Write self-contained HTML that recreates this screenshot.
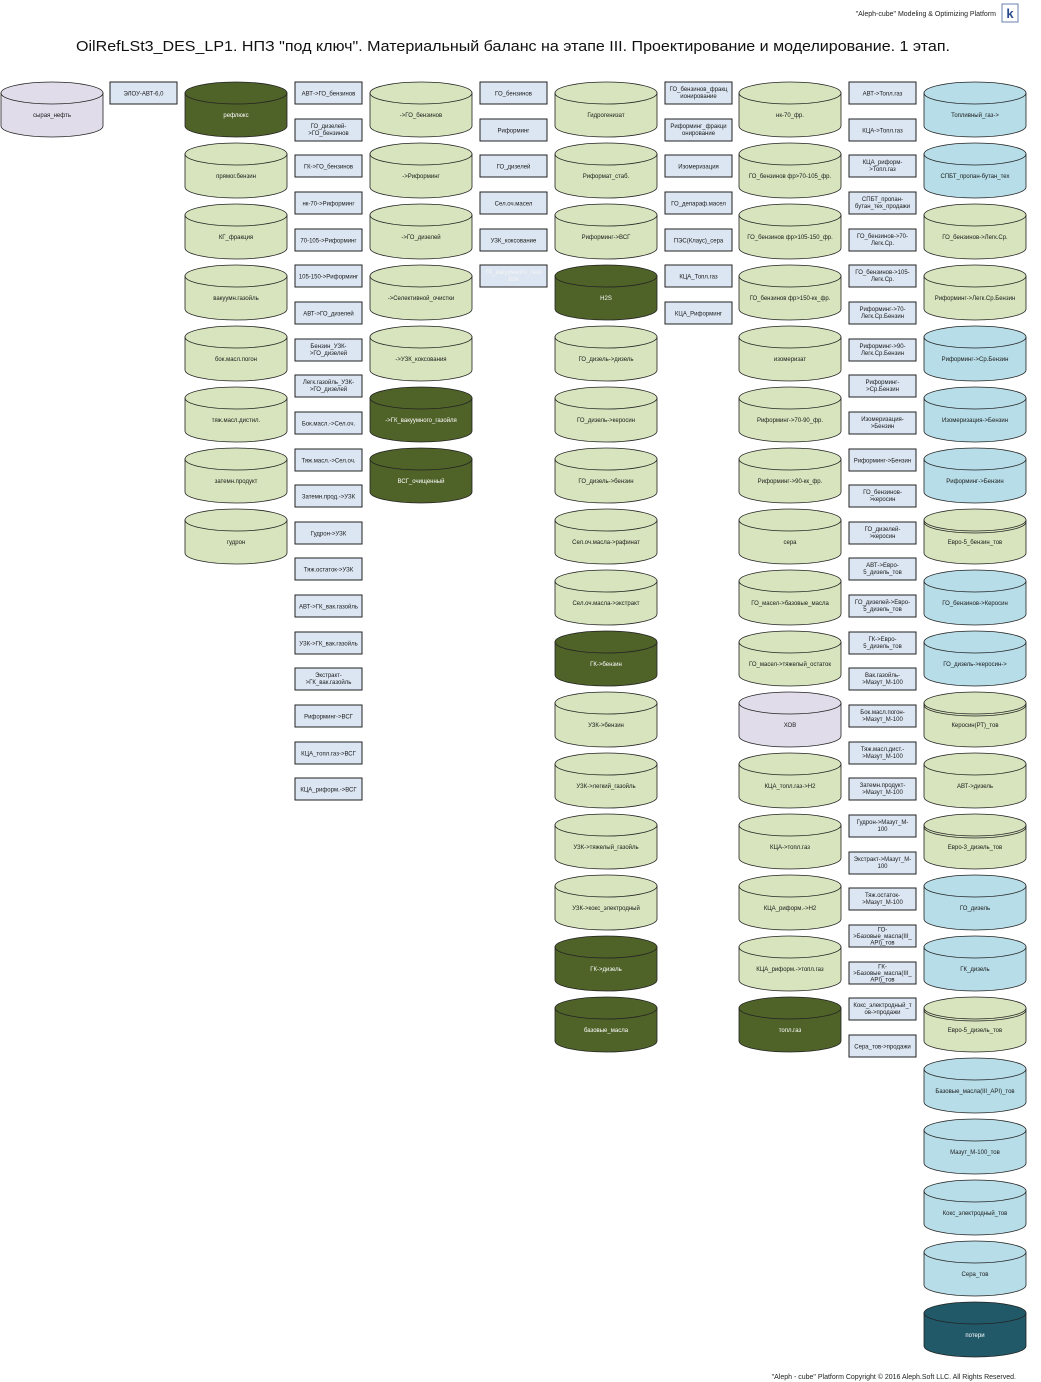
<!DOCTYPE html>
<html><head><meta charset="utf-8">
<style>
html,body{margin:0;padding:0;background:#fff;}
svg{display:block;}
text{font-family:"Liberation Sans","DejaVu Sans",sans-serif;}
.t{font-size:6px;text-anchor:middle;fill:#1a1a1a;}
.w{font-size:6px;text-anchor:middle;fill:#fff;}
.f{font-size:6px;text-anchor:middle;fill:#f4f4f4;}
</style></head><body>
<svg width="1041" height="1382" viewBox="0 0 1041 1382" xmlns="http://www.w3.org/2000/svg">
<defs>
<g id="cy" stroke="#222" stroke-width="0.8">
<path d="M0 11 V44 A51 11 0 0 0 102 44 V11 Z"/>
<ellipse cx="51" cy="11" rx="51" ry="11"/>
</g>
<path id="dbl" d="M0 13 A51 11 0 0 0 102 13" fill="none" stroke="#222" stroke-width="0.8"/>
<rect id="bx" width="67" height="22" fill="#dce6f2" stroke="#222" stroke-width="1"/>
</defs>

<text x="996" y="16" style="font-size:7px;text-anchor:end;fill:#222">"Aleph-cube" Modeling &amp; Optimizing Platform</text>
<rect x="1002" y="4" width="16" height="18" fill="#fff" stroke="#6a7fb0" stroke-width="1"/>
<text x="1010" y="18" style="font-size:13px;text-anchor:middle;fill:#2a4a90;font-weight:bold">k</text>
<text x="513" y="51" textLength="874" lengthAdjust="spacingAndGlyphs" style="font-size:14.5px;text-anchor:middle;fill:#111">OilRefLSt3_DES_LP1. НПЗ "под ключ". Материальный баланс на этапе III. Проектирование и моделирование. 1 этап.</text>
<text x="1016" y="1379" style="font-size:7px;text-anchor:end;fill:#222">"Aleph - cube" Platform Copyright © 2016 Aleph.Soft LLC. All Rights Reserved.</text>

<!-- Col A -->
<g transform="translate(1,82)"><use href="#cy" fill="#e0dcea"/><text class="t" x="51" y="35">сырая_нефть</text></g>
<!-- Col B -->
<g transform="translate(110,82)"><use href="#bx"/><text class="t" x="33.5" y="13.5">ЭЛОУ-АВТ-6,0</text></g>

<!-- Col C -->
<g transform="translate(185,82)"><use href="#cy" fill="#4f6228"/><text class="w" x="51" y="35">рефлюкс</text></g>
<g transform="translate(185,143)"><use href="#cy" fill="#d7e4bd"/><text class="t" x="51" y="35">прямог.бензин</text></g>
<g transform="translate(185,204)"><use href="#cy" fill="#d7e4bd"/><text class="t" x="51" y="35">КГ_фракция</text></g>
<g transform="translate(185,265)"><use href="#cy" fill="#d7e4bd"/><text class="t" x="51" y="35">вакуумн.газойль</text></g>
<g transform="translate(185,326)"><use href="#cy" fill="#d7e4bd"/><text class="t" x="51" y="35">бок.масл.погон</text></g>
<g transform="translate(185,387)"><use href="#cy" fill="#d7e4bd"/><text class="t" x="51" y="35">тяж.масл.дистил.</text></g>
<g transform="translate(185,448)"><use href="#cy" fill="#d7e4bd"/><text class="t" x="51" y="35">затемн.продукт</text></g>
<g transform="translate(185,509)"><use href="#cy" fill="#d7e4bd"/><text class="t" x="51" y="35">гудрон</text></g>

<!-- Col D -->
<g transform="translate(295,82)"><use href="#bx"/><text class="t" x="33.5" y="13.5">АВТ-&gt;ГО_бензинов</text></g>
<g transform="translate(295,119)"><use href="#bx"/><text class="t" x="33.5" y="9">ГО_дизелей-</text><text class="t" x="33.5" y="16">&gt;ГО_бензинов</text></g>
<g transform="translate(295,155)"><use href="#bx"/><text class="t" x="33.5" y="13.5">ГК-&gt;ГО_бензинов</text></g>
<g transform="translate(295,192)"><use href="#bx"/><text class="t" x="33.5" y="13.5">нк-70-&gt;Риформинг</text></g>
<g transform="translate(295,229)"><use href="#bx"/><text class="t" x="33.5" y="13.5">70-105-&gt;Риформинг</text></g>
<g transform="translate(295,265)"><use href="#bx"/><text class="t" x="33.5" y="13.5">105-150-&gt;Риформинг</text></g>
<g transform="translate(295,302)"><use href="#bx"/><text class="t" x="33.5" y="13.5">АВТ-&gt;ГО_дизелей</text></g>
<g transform="translate(295,339)"><use href="#bx"/><text class="t" x="33.5" y="9">Бензин_УЗК-</text><text class="t" x="33.5" y="16">&gt;ГО_дизелей</text></g>
<g transform="translate(295,375)"><use href="#bx"/><text class="t" x="33.5" y="9">Легк.газойль_УЗК-</text><text class="t" x="33.5" y="16">&gt;ГО_дизелей</text></g>
<g transform="translate(295,412)"><use href="#bx"/><text class="t" x="33.5" y="13.5">Бок.масл.-&gt;Сел.оч.</text></g>
<g transform="translate(295,449)"><use href="#bx"/><text class="t" x="33.5" y="13.5">Тяж.масл.-&gt;Сел.оч.</text></g>
<g transform="translate(295,485)"><use href="#bx"/><text class="t" x="33.5" y="13.5">Затемн.прод.-&gt;УЗК</text></g>
<g transform="translate(295,522)"><use href="#bx"/><text class="t" x="33.5" y="13.5">Гудрон-&gt;УЗК</text></g>
<g transform="translate(295,558)"><use href="#bx"/><text class="t" x="33.5" y="13.5">Тяж.остаток-&gt;УЗК</text></g>
<g transform="translate(295,595)"><use href="#bx"/><text class="t" x="33.5" y="13.5">АВТ-&gt;ГК_вак.газойль</text></g>
<g transform="translate(295,632)"><use href="#bx"/><text class="t" x="33.5" y="13.5">УЗК-&gt;ГК_вак.газойль</text></g>
<g transform="translate(295,668)"><use href="#bx"/><text class="t" x="33.5" y="9">Экстракт-</text><text class="t" x="33.5" y="16">&gt;ГК_вак.газойль</text></g>
<g transform="translate(295,705)"><use href="#bx"/><text class="t" x="33.5" y="13.5">Риформинг-&gt;ВСГ</text></g>
<g transform="translate(295,742)"><use href="#bx"/><text class="t" x="33.5" y="13.5">КЦА_топл.газ-&gt;ВСГ</text></g>
<g transform="translate(295,778)"><use href="#bx"/><text class="t" x="33.5" y="13.5">КЦА_риформ.-&gt;ВСГ</text></g>

<!-- Col E -->
<g transform="translate(370,82)"><use href="#cy" fill="#d7e4bd"/><text class="t" x="51" y="35">-&gt;ГО_бензинов</text></g>
<g transform="translate(370,143)"><use href="#cy" fill="#d7e4bd"/><text class="t" x="51" y="35">-&gt;Риформинг</text></g>
<g transform="translate(370,204)"><use href="#cy" fill="#d7e4bd"/><text class="t" x="51" y="35">-&gt;ГО_дизелей</text></g>
<g transform="translate(370,265)"><use href="#cy" fill="#d7e4bd"/><text class="t" x="51" y="35">-&gt;Селективной_очистки</text></g>
<g transform="translate(370,326)"><use href="#cy" fill="#d7e4bd"/><text class="t" x="51" y="35">-&gt;УЗК_коксования</text></g>
<g transform="translate(370,387)"><use href="#cy" fill="#4f6228"/><text class="w" x="51" y="35">-&gt;ГК_вакуумного_газойля</text></g>
<g transform="translate(370,448)"><use href="#cy" fill="#4f6228"/><text class="w" x="51" y="35">ВСГ_очищенный</text></g>

<!-- Col F -->
<g transform="translate(480,82)"><use href="#bx"/><text class="t" x="33.5" y="13.5">ГО_бензинов</text></g>
<g transform="translate(480,119)"><use href="#bx"/><text class="t" x="33.5" y="13.5">Риформинг</text></g>
<g transform="translate(480,155)"><use href="#bx"/><text class="t" x="33.5" y="13.5">ГО_дизелей</text></g>
<g transform="translate(480,192)"><use href="#bx"/><text class="t" x="33.5" y="13.5">Сел.оч.масел</text></g>
<g transform="translate(480,229)"><use href="#bx"/><text class="t" x="33.5" y="13.5">УЗК_коксование</text></g>
<g transform="translate(480,265)"><use href="#bx"/><text class="f" x="33.5" y="9">ГК_вакуумного_газо</text><text class="f" x="33.5" y="16">йля</text></g>

<!-- Col G -->
<g transform="translate(555,82)"><use href="#cy" fill="#d7e4bd"/><text class="t" x="51" y="35">Гидрогенизат</text></g>
<g transform="translate(555,143)"><use href="#cy" fill="#d7e4bd"/><text class="t" x="51" y="35">Риформат_стаб.</text></g>
<g transform="translate(555,204)"><use href="#cy" fill="#d7e4bd"/><text class="t" x="51" y="35">Риформинг-&gt;ВСГ</text></g>
<g transform="translate(555,265)"><use href="#cy" fill="#4f6228"/><text class="w" x="51" y="35">H2S</text></g>
<g transform="translate(555,326)"><use href="#cy" fill="#d7e4bd"/><text class="t" x="51" y="35">ГО_дизель-&gt;дизель</text></g>
<g transform="translate(555,387)"><use href="#cy" fill="#d7e4bd"/><text class="t" x="51" y="35">ГО_дизель-&gt;керосин</text></g>
<g transform="translate(555,448)"><use href="#cy" fill="#d7e4bd"/><text class="t" x="51" y="35">ГО_дизель-&gt;бензин</text></g>
<g transform="translate(555,509)"><use href="#cy" fill="#d7e4bd"/><text class="t" x="51" y="35">Сел.оч.масла-&gt;рафинат</text></g>
<g transform="translate(555,570)"><use href="#cy" fill="#d7e4bd"/><text class="t" x="51" y="35">Сел.оч.масла-&gt;экстракт</text></g>
<g transform="translate(555,631)"><use href="#cy" fill="#4f6228"/><text class="w" x="51" y="35">ГК-&gt;бензин</text></g>
<g transform="translate(555,692)"><use href="#cy" fill="#d7e4bd"/><text class="t" x="51" y="35">УЗК-&gt;бензин</text></g>
<g transform="translate(555,753)"><use href="#cy" fill="#d7e4bd"/><text class="t" x="51" y="35">УЗК-&gt;легкий_газойль</text></g>
<g transform="translate(555,814)"><use href="#cy" fill="#d7e4bd"/><text class="t" x="51" y="35">УЗК-&gt;тяжелый_газойль</text></g>
<g transform="translate(555,875)"><use href="#cy" fill="#d7e4bd"/><text class="t" x="51" y="35">УЗК-&gt;кокс_электродный</text></g>
<g transform="translate(555,936)"><use href="#cy" fill="#4f6228"/><text class="w" x="51" y="35">ГК-&gt;дизель</text></g>
<g transform="translate(555,997)"><use href="#cy" fill="#4f6228"/><text class="w" x="51" y="35">базовые_масла</text></g>

<!-- Col H -->
<g transform="translate(665,82)"><use href="#bx"/><text class="t" x="33.5" y="9">ГО_бензинов_фракц</text><text class="t" x="33.5" y="16">ионирование</text></g>
<g transform="translate(665,119)"><use href="#bx"/><text class="t" x="33.5" y="9">Риформинг_фракци</text><text class="t" x="33.5" y="16">онирование</text></g>
<g transform="translate(665,155)"><use href="#bx"/><text class="t" x="33.5" y="13.5">Изомеризация</text></g>
<g transform="translate(665,192)"><use href="#bx"/><text class="t" x="33.5" y="13.5">ГО_депараф.масел</text></g>
<g transform="translate(665,229)"><use href="#bx"/><text class="t" x="33.5" y="13.5">ПЭС(Клаус)_сера</text></g>
<g transform="translate(665,265)"><use href="#bx"/><text class="t" x="33.5" y="13.5">КЦА_Топл.газ</text></g>
<g transform="translate(665,302)"><use href="#bx"/><text class="t" x="33.5" y="13.5">КЦА_Риформинг</text></g>

<!-- Col I -->
<g transform="translate(739,82)"><use href="#cy" fill="#d7e4bd"/><text class="t" x="51" y="35">нк-70_фр.</text></g>
<g transform="translate(739,143)"><use href="#cy" fill="#d7e4bd"/><text class="t" x="51" y="35">ГО_бензинов фр&gt;70-105_фр.</text></g>
<g transform="translate(739,204)"><use href="#cy" fill="#d7e4bd"/><text class="t" x="51" y="35">ГО_бензинов фр&gt;105-150_фр.</text></g>
<g transform="translate(739,265)"><use href="#cy" fill="#d7e4bd"/><text class="t" x="51" y="35">ГО_бензинов фр&gt;150-кк_фр.</text></g>
<g transform="translate(739,326)"><use href="#cy" fill="#d7e4bd"/><text class="t" x="51" y="35">изомеризат</text></g>
<g transform="translate(739,387)"><use href="#cy" fill="#d7e4bd"/><text class="t" x="51" y="35">Риформинг-&gt;70-90_фр.</text></g>
<g transform="translate(739,448)"><use href="#cy" fill="#d7e4bd"/><text class="t" x="51" y="35">Риформинг-&gt;90-кк_фр.</text></g>
<g transform="translate(739,509)"><use href="#cy" fill="#d7e4bd"/><text class="t" x="51" y="35">сера</text></g>
<g transform="translate(739,570)"><use href="#cy" fill="#d7e4bd"/><text class="t" x="51" y="35">ГО_масел-&gt;базовые_масла</text></g>
<g transform="translate(739,631)"><use href="#cy" fill="#d7e4bd"/><text class="t" x="51" y="35">ГО_масел-&gt;тяжелый_остаток</text></g>
<g transform="translate(739,692)"><use href="#cy" fill="#e0dcea"/><text class="t" x="51" y="35">ХОВ</text></g>
<g transform="translate(739,753)"><use href="#cy" fill="#d7e4bd"/><text class="t" x="51" y="35">КЦА_топл.газ-&gt;H2</text></g>
<g transform="translate(739,814)"><use href="#cy" fill="#d7e4bd"/><text class="t" x="51" y="35">КЦА-&gt;топл.газ</text></g>
<g transform="translate(739,875)"><use href="#cy" fill="#d7e4bd"/><text class="t" x="51" y="35">КЦА_риформ.-&gt;H2</text></g>
<g transform="translate(739,936)"><use href="#cy" fill="#d7e4bd"/><text class="t" x="51" y="35">КЦА_риформ.-&gt;топл.газ</text></g>
<g transform="translate(739,997)"><use href="#cy" fill="#4f6228"/><text class="w" x="51" y="35">топл.газ</text></g>

<!-- Col J -->
<g transform="translate(849,82)"><use href="#bx"/><text class="t" x="33.5" y="13.5">АВТ-&gt;Топл.газ</text></g>
<g transform="translate(849,119)"><use href="#bx"/><text class="t" x="33.5" y="13.5">КЦА-&gt;Топл.газ</text></g>
<g transform="translate(849,155)"><use href="#bx"/><text class="t" x="33.5" y="9">КЦА_риформ-</text><text class="t" x="33.5" y="16">&gt;Топл.газ</text></g>
<g transform="translate(849,192)"><use href="#bx"/><text class="t" x="33.5" y="9">СПБТ_пропан-</text><text class="t" x="33.5" y="16">бутан_тех_продажи</text></g>
<g transform="translate(849,229)"><use href="#bx"/><text class="t" x="33.5" y="9">ГО_бензинов-&gt;70-</text><text class="t" x="33.5" y="16">Легк.Ср.</text></g>
<g transform="translate(849,265)"><use href="#bx"/><text class="t" x="33.5" y="9">ГО_бензинов-&gt;105-</text><text class="t" x="33.5" y="16">Легк.Ср.</text></g>
<g transform="translate(849,302)"><use href="#bx"/><text class="t" x="33.5" y="9">Риформинг-&gt;70-</text><text class="t" x="33.5" y="16">Легк.Ср.Бензин</text></g>
<g transform="translate(849,339)"><use href="#bx"/><text class="t" x="33.5" y="9">Риформинг-&gt;90-</text><text class="t" x="33.5" y="16">Легк.Ср.Бензин</text></g>
<g transform="translate(849,375)"><use href="#bx"/><text class="t" x="33.5" y="9">Риформинг-</text><text class="t" x="33.5" y="16">&gt;Ср.Бензин</text></g>
<g transform="translate(849,412)"><use href="#bx"/><text class="t" x="33.5" y="9">Изомеризация-</text><text class="t" x="33.5" y="16">&gt;Бензин</text></g>
<g transform="translate(849,449)"><use href="#bx"/><text class="t" x="33.5" y="13.5">Риформинг-&gt;Бензин</text></g>
<g transform="translate(849,485)"><use href="#bx"/><text class="t" x="33.5" y="9">ГО_бензинов-</text><text class="t" x="33.5" y="16">&gt;керосин</text></g>
<g transform="translate(849,522)"><use href="#bx"/><text class="t" x="33.5" y="9">ГО_дизелей-</text><text class="t" x="33.5" y="16">&gt;керосин</text></g>
<g transform="translate(849,558)"><use href="#bx"/><text class="t" x="33.5" y="9">АВТ-&gt;Евро-</text><text class="t" x="33.5" y="16">5_дизель_тов</text></g>
<g transform="translate(849,595)"><use href="#bx"/><text class="t" x="33.5" y="9">ГО_дизелей-&gt;Евро-</text><text class="t" x="33.5" y="16">5_дизель_тов</text></g>
<g transform="translate(849,632)"><use href="#bx"/><text class="t" x="33.5" y="9">ГК-&gt;Евро-</text><text class="t" x="33.5" y="16">5_дизель_тов</text></g>
<g transform="translate(849,668)"><use href="#bx"/><text class="t" x="33.5" y="9">Вак.газойль-</text><text class="t" x="33.5" y="16">&gt;Мазут_М-100</text></g>
<g transform="translate(849,705)"><use href="#bx"/><text class="t" x="33.5" y="9">Бок.масл.погон-</text><text class="t" x="33.5" y="16">&gt;Мазут_М-100</text></g>
<g transform="translate(849,742)"><use href="#bx"/><text class="t" x="33.5" y="9">Тяж.масл.дист.-</text><text class="t" x="33.5" y="16">&gt;Мазут_М-100</text></g>
<g transform="translate(849,778)"><use href="#bx"/><text class="t" x="33.5" y="9">Затемн.продукт-</text><text class="t" x="33.5" y="16">&gt;Мазут_М-100</text></g>
<g transform="translate(849,815)"><use href="#bx"/><text class="t" x="33.5" y="9">Гудрон-&gt;Мазут_М-</text><text class="t" x="33.5" y="16">100</text></g>
<g transform="translate(849,852)"><use href="#bx"/><text class="t" x="33.5" y="9">Экстракт-&gt;Мазут_М-</text><text class="t" x="33.5" y="16">100</text></g>
<g transform="translate(849,888)"><use href="#bx"/><text class="t" x="33.5" y="9">Тяж.остаток-</text><text class="t" x="33.5" y="16">&gt;Мазут_М-100</text></g>
<g transform="translate(849,925)"><use href="#bx"/><text class="t" x="33.5" y="6.5">ГО-</text><text class="t" x="33.5" y="13">&gt;Базовые_масла(III_</text><text class="t" x="33.5" y="19.5">API)_тов</text></g>
<g transform="translate(849,962)"><use href="#bx"/><text class="t" x="33.5" y="6.5">ГК-</text><text class="t" x="33.5" y="13">&gt;Базовые_масла(III_</text><text class="t" x="33.5" y="19.5">API)_тов</text></g>
<g transform="translate(849,998)"><use href="#bx"/><text class="t" x="33.5" y="9">Кокс_электродный_т</text><text class="t" x="33.5" y="16">ов-&gt;продажи</text></g>
<g transform="translate(849,1035)"><use href="#bx"/><text class="t" x="33.5" y="13.5">Сера_тов-&gt;продажи</text></g>

<!-- Col K -->
<g transform="translate(924,82)"><use href="#cy" fill="#b7dde8"/><text class="t" x="51" y="35">Топливный_газ-&gt;</text></g>
<g transform="translate(924,143)"><use href="#cy" fill="#b7dde8"/><text class="t" x="51" y="35">СПБТ_пропан-бутан_тех</text></g>
<g transform="translate(924,204)"><use href="#cy" fill="#d7e4bd"/><text class="t" x="51" y="35">ГО_бензинов-&gt;Легк.Ср.</text></g>
<g transform="translate(924,265)"><use href="#cy" fill="#d7e4bd"/><text class="t" x="51" y="35">Риформинг-&gt;Легк.Ср.Бензин</text></g>
<g transform="translate(924,326)"><use href="#cy" fill="#b7dde8"/><text class="t" x="51" y="35">Риформинг-&gt;Ср.Бензин</text></g>
<g transform="translate(924,387)"><use href="#cy" fill="#b7dde8"/><text class="t" x="51" y="35">Изомеризация-&gt;Бензин</text></g>
<g transform="translate(924,448)"><use href="#cy" fill="#b7dde8"/><text class="t" x="51" y="35">Риформинг-&gt;Бензин</text></g>
<g transform="translate(924,509)"><use href="#cy" fill="#d7e4bd"/><use href="#dbl"/><text class="t" x="51" y="35">Евро-5_бензин_тов</text></g>
<g transform="translate(924,570)"><use href="#cy" fill="#b7dde8"/><text class="t" x="51" y="35">ГО_бензинов-&gt;Керосин</text></g>
<g transform="translate(924,631)"><use href="#cy" fill="#b7dde8"/><text class="t" x="51" y="35">ГО_дизель-&gt;керосин-&gt;</text></g>
<g transform="translate(924,692)"><use href="#cy" fill="#d7e4bd"/><use href="#dbl"/><text class="t" x="51" y="35">Керосин(РТ)_тов</text></g>
<g transform="translate(924,753)"><use href="#cy" fill="#d7e4bd"/><text class="t" x="51" y="35">АВТ-&gt;дизель</text></g>
<g transform="translate(924,814)"><use href="#cy" fill="#d7e4bd"/><use href="#dbl"/><text class="t" x="51" y="35">Евро-3_дизель_тов</text></g>
<g transform="translate(924,875)"><use href="#cy" fill="#b7dde8"/><text class="t" x="51" y="35">ГО_дизель</text></g>
<g transform="translate(924,936)"><use href="#cy" fill="#b7dde8"/><text class="t" x="51" y="35">ГК_дизель</text></g>
<g transform="translate(924,997)"><use href="#cy" fill="#d7e4bd"/><use href="#dbl"/><text class="t" x="51" y="35">Евро-5_дизель_тов</text></g>
<g transform="translate(924,1058)"><use href="#cy" fill="#b7dde8"/><text class="t" x="51" y="35">Базовые_масла(III_API)_тов</text></g>
<g transform="translate(924,1119)"><use href="#cy" fill="#b7dde8"/><text class="t" x="51" y="35">Мазут_М-100_тов</text></g>
<g transform="translate(924,1180)"><use href="#cy" fill="#b7dde8"/><text class="t" x="51" y="35">Кокс_электродный_тов</text></g>
<g transform="translate(924,1241)"><use href="#cy" fill="#b7dde8"/><text class="t" x="51" y="35">Сера_тов</text></g>
<g transform="translate(924,1302)"><use href="#cy" fill="#215968"/><text class="w" x="51" y="35">потери</text></g>
</svg>
</body></html>
